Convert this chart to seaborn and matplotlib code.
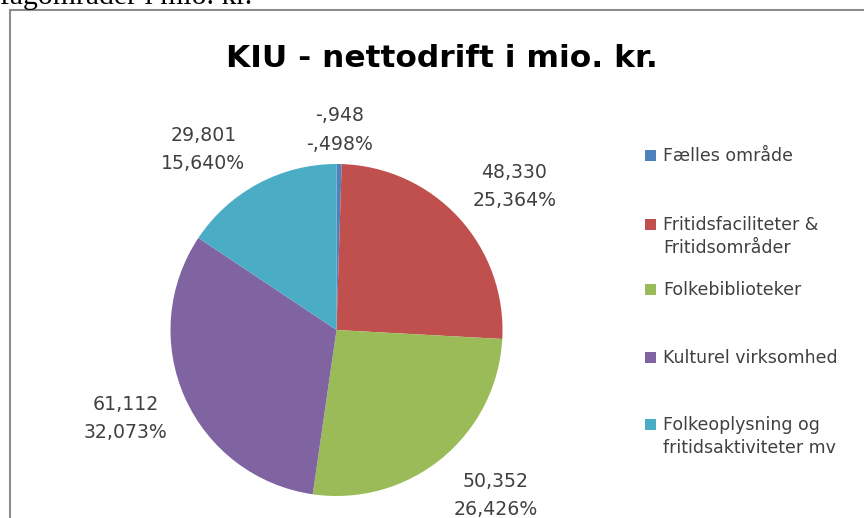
import numpy as np
import matplotlib
matplotlib.use("Agg")
import matplotlib.pyplot as plt
import seaborn as sns
from matplotlib.lines import Line2D
from matplotlib.patches import Rectangle

# ---- data ----
categories = ["Fælles område",
              "Fritidsfaciliteter &\nFritidsområder",
              "Folkebiblioteker",
              "Kulturel virksomhed",
              "Folkeoplysning og\nfritidsaktiviteter mv"]
values = [-0.948, 48.330, 50.352, 61.112, 29.801]
colors = ["#4F81BD", "#C0504D", "#9BBB59", "#8064A2", "#4BACC6"]
title = "KIU - nettodrift i mio. kr."
caption = "fagområder i mio. kr."

sns.set_theme(style="white")
plt.rcParams['font.family'] = ['DejaVu Sans']

W, H = 864, 518
fig = plt.figure(figsize=(W / 100, H / 100), dpi=100)
fig.patch.set_facecolor('white')


def fx(px):
    return px / W


def fy(py):
    return 1 - py / H


# ---- pie ----
CX, CY, R = 336.5, 330, 166
ax = fig.add_axes([fx(CX - R), fy(CY + R), 2 * R / W, 2 * R / H])
sizes = np.abs(values)
pal = sns.color_palette(colors)
wedges, _ = ax.pie(sizes, colors=pal, startangle=90, counterclock=False,
                   radius=1, wedgeprops=dict(linewidth=0))
ax.set_xlim(-1, 1)
ax.set_ylim(-1, 1)
ax.axis('off')

PX = 1 / R
total = sizes.sum()
nudge = [0, 3.4, -4.8, 1.6, -8.1]
dist = [1.214, 1.38, 1.38, 1.373, 1.357]


def fmt(v):
    s = f"{abs(v):.3f}".replace('.', ',')
    if s.startswith('0,'):
        s = s[1:]
    return ('-' if v < 0 else '') + s


for w, v, nd, d in zip(wedges, values, nudge, dist):
    mid = np.deg2rad((w.theta1 + w.theta2) / 2 - nd)
    x, y = d * np.cos(mid), d * np.sin(mid)
    pct = v / total * 100
    for i, s in enumerate([fmt(v), fmt(pct) + '%']):
        yy = y + (14.25 - 28.5 * i) * PX - 6.8 * PX
        ax.text(x, yy, s, ha='center', va='baseline', fontsize=13.6,
                color='#404040')

# ---- title ----
fig.text(fx(442), fy(67), title, fontsize=22.5, fontweight='bold',
         ha='center', va='baseline', color='black')

# ---- legend ----
LEG_Y = [155, 224, 289, 357, 424]
LEG_LINE = 23
for name, col, y0 in zip(categories, pal, LEG_Y):
    fig.add_artist(Rectangle((fx(645), fy(y0 + 5.5)), 11 / W, 11 / H,
                             facecolor=col, edgecolor='none',
                             transform=fig.transFigure))
    for i, line in enumerate(name.split('\n')):
        fig.text(fx(663), fy(y0 + i * LEG_LINE + 6.35), line, ha='left',
                 va='baseline', fontsize=12.5, color='#404040')

# ---- frame & cut caption ----
fig.add_artist(Line2D([fx(10), fx(10)], [fy(10), 0], color='#8c8c8c', lw=1.5,
                      transform=fig.transFigure))
fig.add_artist(Line2D([fx(10), 1], [fy(10), fy(10)], color='#8c8c8c', lw=1.5,
                      transform=fig.transFigure))
fig.text(fx(0), fy(4), caption, family='Liberation Serif', fontsize=21.4,
         ha='left', va='baseline', color='black')

fig.savefig('out.png', dpi=100)
